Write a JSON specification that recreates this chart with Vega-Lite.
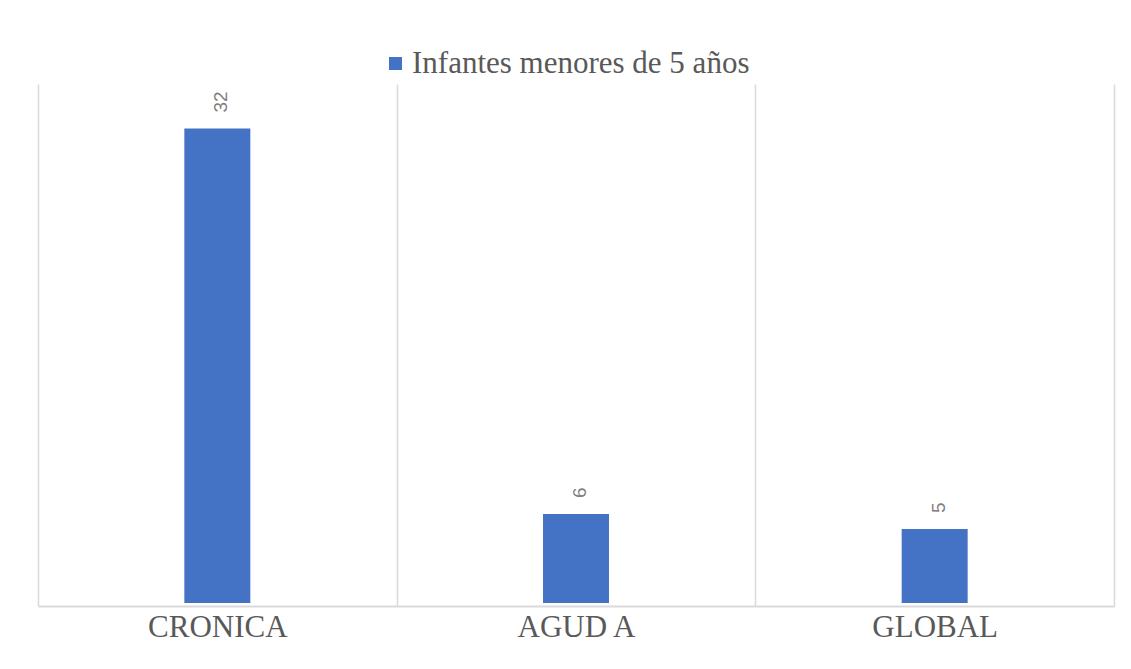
{
  "$schema": "https://vega.github.io/schema/vega-lite/v6.json",
  "autosize": "none",
  "width": 1076,
  "height": 522,
  "padding": {"left": 38, "top": 84, "right": 17, "bottom": 63},
  "background": "white",
  "data": {
    "values": [
      {"categoria": "CRONICA", "serie": "Infantes menores de 5 años", "valor": 32},
      {"categoria": "AGUD A", "serie": "Infantes menores de 5 años", "valor": 6},
      {"categoria": "GLOBAL", "serie": "Infantes menores de 5 años", "valor": 5}
    ]
  },
  "config": {
    "view": {"stroke": null},
    "axis": {"domainColor": "#d9d9d9", "gridColor": "#d9d9d9"}
  },
  "encoding": {
    "x": {
      "field": "categoria",
      "type": "nominal",
      "sort": null,
      "scale": {"paddingInner": 0, "paddingOuter": 0},
      "axis": {
        "title": null,
        "labelAngle": 0,
        "labelFont": "Liberation Serif",
        "labelFontSize": 31,
        "labelColor": "#595959",
        "labelPadding": 6,
        "ticks": false,
        "grid": true,
        "tickBand": "extent",
        "gridWidth": 1.5,
        "domainWidth": 2
      }
    },
    "y": {
      "field": "valor",
      "type": "quantitative",
      "scale": {"domain": [-0.2, 35], "nice": false},
      "axis": null
    }
  },
  "layer": [
    {
      "mark": {"type": "bar", "width": {"band": 0.184}, "color": "#4472C4"},
      "encoding": {
        "color": {
          "field": "serie",
          "type": "nominal",
          "scale": {"range": ["#4472C4"]},
          "legend": {
            "title": null,
            "orient": "none",
            "legendX": 342,
            "legendY": -36,
            "symbolType": "square",
            "symbolSize": 170,
            "symbolStrokeWidth": 0,
            "labelFont": "Liberation Serif",
            "labelFontSize": 31,
            "labelColor": "#595959",
            "labelOffset": 1,
            "labelLimit": 0
          }
        }
      }
    },
    {
      "mark": {
        "type": "text",
        "angle": 270,
        "align": "left",
        "baseline": "middle",
        "dx": 16,
        "dy": 4,
        "font": "Liberation Sans",
        "fontSize": 19,
        "color": "#7f7f7f"
      },
      "encoding": {"text": {"field": "valor", "type": "quantitative"}}
    }
  ]
}
